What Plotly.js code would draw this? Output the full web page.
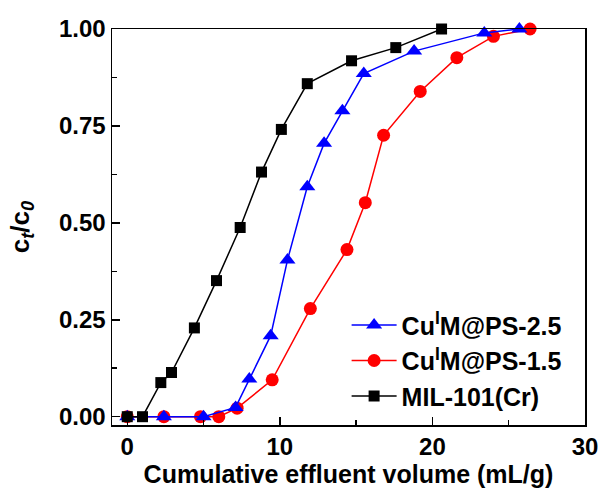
<!DOCTYPE html>
<html><head><meta charset="utf-8">
<script src="https://cdn.plot.ly/plotly-3.0.1.min.js"></script>
<style>html,body{margin:0;padding:0;background:#fff}#chart{width:605px;height:497px}</style>
</head><body><div id="chart"></div>
<script>
var names = ["Cu<sup>I</sup>M@PS-2.5", "Cu<sup>I</sup>M@PS-1.5", "MIL-101(Cr)"];
var xBlue = [0, 2.4, 5.0, 7.1, 8.0, 9.4, 10.5, 11.8, 12.9, 14.1, 15.5, 18.8, 23.4, 25.7];
var yBlue = [0, 0, 0, 0.024, 0.097, 0.209, 0.404, 0.593, 0.705, 0.789, 0.885, 0.943, 0.99, 1.0];
var xRed = [0, 2.4, 4.8, 6.0, 7.2, 9.5, 12.0, 14.4, 15.6, 16.8, 19.2, 21.6, 24.0, 26.4];
var yRed = [0, 0, 0, 0, 0.022, 0.095, 0.279, 0.431, 0.552, 0.726, 0.839, 0.926, 0.981, 1.0];
var xBlack = [0, 1.0, 2.2, 2.9, 4.4, 5.85, 7.4, 8.8, 10.1, 11.8, 14.7, 17.6, 20.6];
var yBlack = [0, 0, 0.088, 0.114, 0.229, 0.351, 0.488, 0.631, 0.741, 0.859, 0.918, 0.952, 1.0];
var xTicks = [0, 10, 20, 30];
var yTicks = [0, 0.25, 0.5, 0.75, 1.0];
var yTickText = ["0.00", "0.25", "0.50", "0.75", "1.00"];

var FF = 'Liberation Sans, Arial, sans-serif';
var traces = [
  {x: xRed, y: yRed, name: names[1], legendrank: 2, mode: 'lines+markers', cliponaxis: false,
   line: {color: '#ff0000', width: 1.5}, marker: {symbol: 'circle', size: 13, color: '#ff0000'}},
  {x: xBlue, y: yBlue, name: names[0], legendrank: 1, mode: 'lines+markers', cliponaxis: false,
   line: {color: '#0000ff', width: 1.5}, marker: {symbol: 'triangle-up', size: 14, color: '#0000ff'}},
  {x: xBlack, y: yBlack, name: names[2], legendrank: 3, mode: 'lines+markers', cliponaxis: false,
   line: {color: '#000000', width: 1.5}, marker: {symbol: 'square', size: 11, color: '#000000'}}
];
var layout = {
  width: 605, height: 497,
  margin: {l: 112, r: 20, t: 29, b: 72},
  paper_bgcolor: '#fff', plot_bgcolor: '#fff',
  font: {family: FF, color: '#000'},
  showlegend: true,
  legend: {x: 0.496, y: 0.31, xanchor: 'left', yanchor: 'top', bgcolor: 'rgba(0,0,0,0)', itemwidth: 45,
           font: {family: FF, size: 25, color: '#000', weight: 'bold'}},
  xaxis: {range: [-1, 30], tickvals: xTicks, ticktext: xTicks.map(String),
          ticks: 'inside', ticklen: 8, tickwidth: 1.5, tickcolor: '#000',
          minor: {ticks: 'inside', ticklen: 5, tickwidth: 1.5, dtick: 5, tick0: 0, tickcolor: '#000'},
          showline: true, linewidth: 1.5, linecolor: '#000', mirror: true, showgrid: false, zeroline: false,
          tickfont: {size: 24, weight: 'bold', family: FF, color: '#000'},
          title: {text: 'Cumulative effluent volume (mL/g)', standoff: 6,
                  font: {size: 25, weight: 'bold', family: FF, color: '#000'}}},
  yaxis: {range: [-0.0214, 1.0], tickvals: yTicks, ticktext: yTickText,
          ticks: 'inside', ticklen: 8, tickwidth: 1.5, tickcolor: '#000',
          minor: {ticks: 'inside', ticklen: 5, tickwidth: 1.5, dtick: 0.125, tick0: 0, tickcolor: '#000'},
          showline: true, linewidth: 1.5, linecolor: '#000', mirror: true, showgrid: false, zeroline: false,
          tickfont: {size: 24, weight: 'bold', family: FF, color: '#000'},
          title: {text: 'c<sub><i>t</i></sub>/c<sub><i>0</i></sub>', standoff: 22,
                  font: {size: 26, weight: 'bold', family: FF, color: '#000'}}}
};
Plotly.newPlot('chart', traces, layout, {displayModeBar: false, staticPlot: true});
</script></body></html>
